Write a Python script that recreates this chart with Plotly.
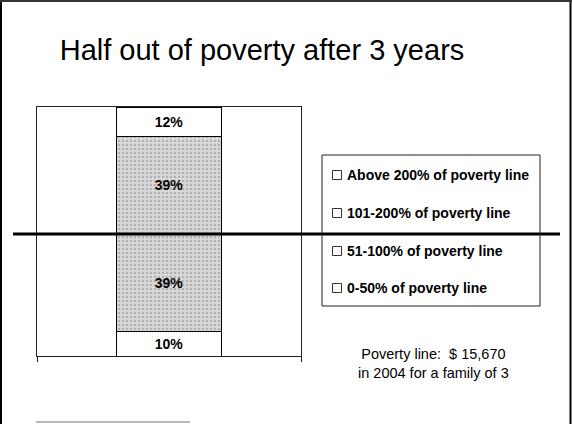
import plotly.graph_objects as go

# ---- data ----
categories = ["0-50% of poverty line", "51-100% of poverty line",
              "101-200% of poverty line", "Above 200% of poverty line"]
shares = [10, 39, 39, 12]
title_text = "Half out of poverty after 3 years"
note_text = "Poverty line:  $ 15,670<br>in 2004 for a family of 3"
poverty_split = shares[0] + shares[1]  # boundary between below/above poverty

# ---- geometry helpers (pixel -> paper) ----
W, H = 572, 424
L, R, T, B = 37, 301, 107, 356


def px_x(p):
    return (p - L) / (R - L)


def px_y(p):
    return (B - p) / (B - T)


FONT = "Arial, Liberation Sans, sans-serif"

fig = go.Figure()
shaded = [False, True, True, False]
for name, val, sh in zip(categories, shares, shaded):
    marker = dict(color="white", line=dict(color="black", width=1))
    if sh:
        marker = dict(color="#d6d6d6", line=dict(color="black", width=1),
                      pattern=dict(shape=".", fgcolor="#8a8a8a", bgcolor="#dadada",
                                   size=4, solidity=0.35))
    fig.add_trace(go.Bar(
        x=[0.5], y=[val], width=0.4, name=name, marker=marker,
        texttemplate="<b>%{y}%</b>", textposition="inside",
        insidetextanchor="middle", constraintext="none",
        textfont=dict(family=FONT, size=14, color="black"),
        showlegend=False, hoverinfo="skip",
    ))

fig.update_layout(
    barmode="stack",
    width=W, height=H,
    margin=dict(l=L, r=W - R, t=T, b=H - B),
    paper_bgcolor="white", plot_bgcolor="white",
    showlegend=False,
    title=dict(text=title_text, x=262 / W, xanchor="center",
               y=1 - 50 / H, yanchor="middle",
               font=dict(family=FONT, size=29, color="black")),
    xaxis=dict(range=[0, 1], showgrid=False, zeroline=False, showline=True,
               mirror=True, linecolor="#222", linewidth=1,
               tickvals=[0, 1], ticks="outside", ticklen=5, tickcolor="#222",
               showticklabels=False),
    yaxis=dict(range=[0, 100], showgrid=False, zeroline=False, showline=True,
               mirror=True, linecolor="#222", linewidth=1,
               showticklabels=False, ticks=""),
)

shapes = []
# thick poverty line across the slide
shapes.append(dict(type="line", xref="paper", yref="y",
                   x0=px_x(13), x1=px_x(560), y0=poverty_split, y1=poverty_split,
                   line=dict(color="black", width=3)))
# legend box
shapes.append(dict(type="rect", xref="paper", yref="paper",
                   x0=px_x(322), x1=px_x(540), y0=px_y(306), y1=px_y(155),
                   line=dict(color="#222", width=1), fillcolor="rgba(0,0,0,0)"))
# slide borders
shapes.append(dict(type="line", xref="paper", yref="paper",
                   x0=px_x(1), x1=px_x(1), y0=px_y(0), y1=px_y(424),
                   line=dict(color="black", width=2)))
shapes.append(dict(type="line", xref="paper", yref="paper",
                   x0=px_x(570.5), x1=px_x(570.5), y0=px_y(0), y1=px_y(424),
                   line=dict(color="black", width=2)))
shapes.append(dict(type="line", xref="paper", yref="paper",
                   x0=px_x(0), x1=px_x(572), y0=px_y(1), y1=px_y(1),
                   line=dict(color="#333", width=2)))
shapes.append(dict(type="line", xref="paper", yref="paper",
                   x0=px_x(36), x1=px_x(190), y0=px_y(422), y1=px_y(422),
                   line=dict(color="#a0a0a0", width=1.5)))

annotations = []
legend_rows = [175, 213, 251, 288]
for name, yy in zip(reversed(categories), legend_rows):
    shapes.append(dict(type="rect", xref="paper", yref="paper",
                       x0=px_x(332.5), x1=px_x(341.5),
                       y0=px_y(yy + 4.5), y1=px_y(yy - 4.5),
                       line=dict(color="#333", width=1), fillcolor="white"))
    annotations.append(dict(text="<b>" + name + "</b>", xref="paper", yref="paper",
                            x=px_x(345), y=px_y(yy), xanchor="left", yanchor="middle",
                            showarrow=False,
                            font=dict(family=FONT, size=14, color="black")))

annotations.append(dict(text=note_text, xref="paper", yref="paper",
                        x=px_x(433), y=px_y(363), xanchor="center", yanchor="middle",
                        showarrow=False, align="center",
                        font=dict(family=FONT, size=14.5, color="black")))

fig.update_layout(shapes=shapes, annotations=annotations)

fig.write_html("out.html")
